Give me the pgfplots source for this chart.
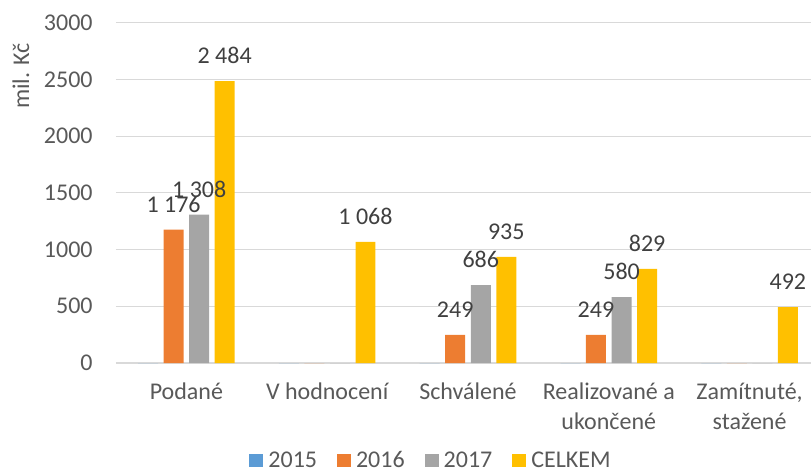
\documentclass[border=0pt]{standalone}
\usepackage{fontspec}
\setmainfont{Carlito}
\usepackage{pgfplots}
\pgfplotsset{compat=1.18}
\definecolor{xlblue}{HTML}{5B9BD5}
\definecolor{xlorange}{HTML}{ED7D31}
\definecolor{xlgray}{HTML}{A5A5A5}
\definecolor{xlgold}{HTML}{FFC000}
\definecolor{gridgray}{HTML}{D9D9D9}
\definecolor{axisgray}{HTML}{595959}
\definecolor{labelgray}{HTML}{404040}
\newcommand{\chartfont}{\fontsize{12pt}{15pt}\selectfont}

\begin{document}
\begin{tikzpicture}
\begin{axis}[
    width=347.5pt, height=170.15pt, scale only axis,
    ybar, bar width=0.142,
    xmin=-0.5, xmax=4.436,
    ymin=0, ymax=3000,
    ytick={0,500,...,3000},
    xtick={0,...,4},
    xticklabels={Podané, V hodnocení, Schválené, {Realizované a\\ukončené}, {Zamítnuté,\\stažené}},
    /pgf/number format/assume math mode=true,
    axis line style={draw=none},
    major tick length=0pt,
    ymajorgrids, grid style={gridgray, line width=0.6pt},
    tick label style={font=\chartfont, text=axisgray},
    xticklabel style={anchor=north, align=center, inner sep=0pt, yshift=-9.7pt},
    yticklabel style={anchor=east, inner sep=0pt, xshift=-11.5pt, /pgf/number format/1000 sep={}},
    ylabel={mil. Kč},
    ylabel style={font=\chartfont, text=axisgray, at={(axis description cs:-0.137,0.8434)}, anchor=center},
    nodes near coords={\pgfmathfloatifflags{\pgfplotspointmeta}{0}{}{\pgfmathprintnumber[1000 sep={\ }]{\pgfplotspointmeta}}},
    nodes near coords style={font=\chartfont, text=labelgray, anchor=south, inner sep=0pt, yshift=8.5pt},
    legend image code/.code={\fill[#1] (0pt,-3.5pt) rectangle (7pt,3pt);},
    legend style={at={(axis description cs:0.1914,-0.285)}, anchor=west, draw=none, fill=none,
        inner sep=0pt, font=\chartfont, text=axisgray, legend columns=-1,
        nodes={inner xsep=2.5pt, inner ysep=0pt, text height=8pt, text depth=0pt},
        /tikz/every even column/.append style={column sep=7.5pt}},
    clip=false,
]
\addplot[fill=xlblue, draw=none, bar shift=-0.272] coordinates {(0,0) (1,0) (2,0) (3,0) (4,0)};
\addplot[fill=xlorange, draw=none, bar shift=-0.091] coordinates {(0,1176) (1,0) (2,249) (3,249) (4,0)};
\addplot[fill=xlgray, draw=none, bar shift=0.091] coordinates {(0,1308) (1,0) (2,686) (3,580) (4,0)};
\addplot[fill=xlgold, draw=none, bar shift=0.272] coordinates {(0,2484) (1,1068) (2,935) (3,829) (4,492)};
\legend{2015,2016,2017,CELKEM}
\end{axis}
\pgfresetboundingbox
\useasboundingbox (-58pt,-54.5pt) rectangle (347.5pt,181.5pt);
\end{tikzpicture}
\end{document}
